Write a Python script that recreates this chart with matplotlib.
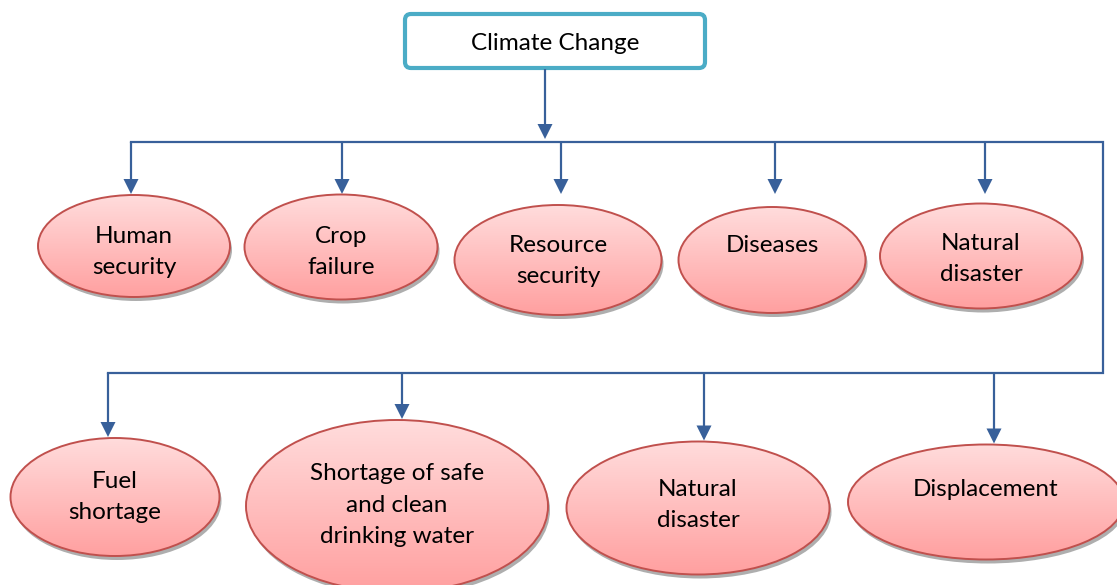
import numpy as np
import matplotlib
matplotlib.use('Agg')
import matplotlib.pyplot as plt
from matplotlib.patches import Ellipse, FancyBboxPatch, FancyArrow

# ----- content of the diagram
root_label = 'Climate Change'
top_labels = ['Human\nsecurity', 'Crop\nfailure', 'Resource\nsecurity', 'Diseases', 'Natural\ndisaster']
bottom_labels = ['Fuel\nshortage', 'Shortage of safe\nand clean\ndrinking water', 'Natural\ndisaster', 'Displacement']

# ----- layout in pixels (x, y of ellipse centre, width, height, arrow x, text y)
top_layout = [(134, 246, 192, 102, 131, 252),
              (341, 247, 193, 105, 342, 252),
              (558, 260, 207, 110, 561, 261),
              (772, 260, 187, 106, 775, 245),
              (981, 256, 202, 105, 985, 259)]
bottom_layout = [(115, 497, 209, 118, 108, 497),
                 (397, 506, 302, 172, 402, 505),
                 (698, 508, 263, 133, 704, 505),
                 (986, 502, 276, 115, 994, 489)]

LINE = '#38609a'
EDGE = '#c0504d'
TOP_PINK = np.array([255, 220, 220]) / 255
BOT_PINK = np.array([255, 160, 160]) / 255

plt.rcParams['font.family'] = ['Lato', 'DejaVu Sans']

fig = plt.figure(figsize=(11.17, 5.85), dpi=100)
ax = fig.add_axes([0, 0, 1, 1])
ax.set_xlim(0, 1117)
ax.set_ylim(585, 0)
ax.axis('off')


def arrow_down(x, y0, y1):
    ax.add_patch(FancyArrow(x, y0, 0, y1 - y0, width=2.2, head_width=15, head_length=15,
                            length_includes_head=True, color=LINE, lw=0, zorder=3))


def bubble(cx, cy, w, h, label, ty):
    # shadow
    ax.add_patch(Ellipse((cx + 2, cy + 4), w, h, facecolor='#9a9a9a', edgecolor='none', alpha=0.8, zorder=1))
    # gradient fill clipped to the ellipse
    e = Ellipse((cx, cy), w, h, facecolor='none', edgecolor=EDGE, lw=1.4, zorder=4)
    grad = np.linspace(0, 1, 100)[:, None, None]
    img = TOP_PINK * (1 - grad) + BOT_PINK * grad
    img = np.repeat(img, 2, axis=1)
    im = ax.imshow(img, extent=(cx - w / 2, cx + w / 2, cy + h / 2, cy - h / 2),
                   aspect='auto', zorder=2, interpolation='bilinear')
    clip = Ellipse((cx, cy), w, h, transform=ax.transData)
    im.set_clip_path(clip)
    ax.add_patch(e)
    ax.text(cx, ty, label, ha='center', va='center', fontsize=17.5, color='black',
            linespacing=1.63, zorder=5)


# root box
ax.add_patch(FancyBboxPatch((405, 14), 300, 54, boxstyle='round,pad=0,rounding_size=6',
                            facecolor='white', edgecolor='#4bacc6', lw=3, zorder=3))
ax.text(555, 44, root_label, ha='center', va='center', fontsize=17.5, zorder=4)
arrow_down(545, 69, 139)

# connector lines
ax.plot([131, 1103, 1103, 108], [142, 142, 373, 373], color=LINE, lw=1.6, zorder=2,
        solid_joinstyle='miter')

for (cx, cy, w, h, axx, ty), label in zip(top_layout, top_labels):
    arrow_down(axx, 142, 194)
    bubble(cx, cy, w, h, label, ty)

for (cx, cy, w, h, axx, ty), label in zip(bottom_layout, bottom_labels):
    arrow_down(axx, 373, cy - h / 2 - 1)
    bubble(cx, cy, w, h, label, ty)

fig.savefig('out.png', dpi=100)
